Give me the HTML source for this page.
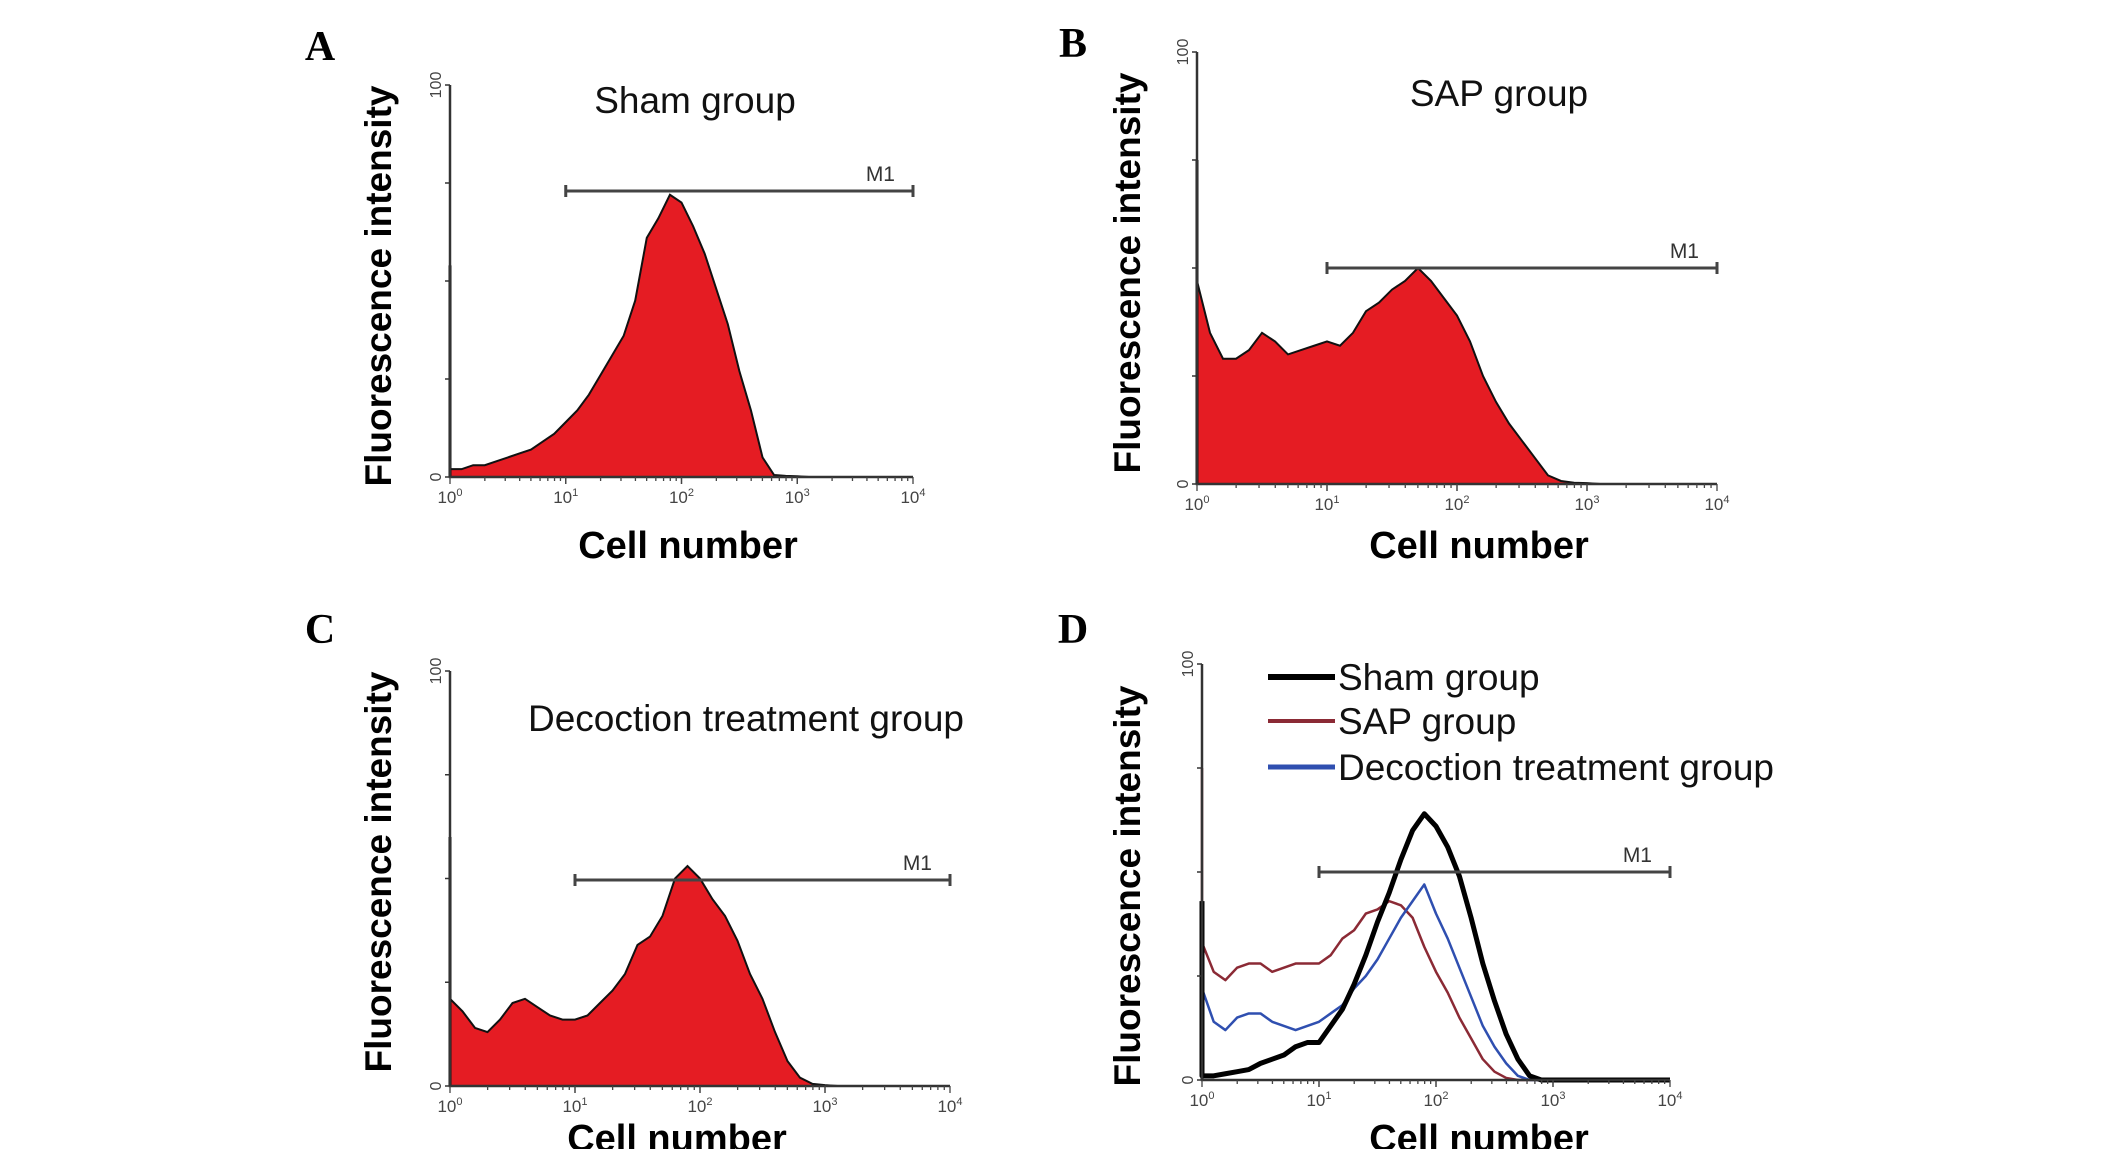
<!DOCTYPE html>
<html><head><meta charset="utf-8"><style>
html,body{margin:0;padding:0;background:#fff;}
svg{display:block;}
</style></head><body>
<svg id="fig" width="2126" height="1149" viewBox="0 0 2126 1149" xmlns="http://www.w3.org/2000/svg" font-family="Liberation Sans, Arial, sans-serif"></svg>
<script>
// log10 channel positions (0..4), step 0.1
const logX = [0,0.1,0.2,0.3,0.4,0.5,0.6,0.7,0.8,0.9,1.0,1.1,1.2,1.3,1.4,1.5,1.6,1.7,1.8,1.9,2.0,2.1,2.2,2.3,2.4,2.5,2.6,2.7,2.8,2.9,3.0,3.1,3.2,3.3,3.4,3.5,3.6,3.7,3.8,3.9,4.0];
const shamValues = [2,2,3,3,4,5,6,7,9,11,14,17,21,26,31,36,45,61,66,72,70,64,57,48,39,27,17,5,0.5,0.3,0.2,0,0,0,0,0,0,0,0,0,0];
const sapValues = [47,35,29,29,31,35,33,30,31,32,33,32,35,40,42,45,47,50,47,43,39,33,25,19,14,10,6,2,0.7,0.3,0.2,0,0,0,0,0,0,0,0,0,0];
const decValues = [21,18,14,13,16,20,21,19,17,16,16,17,20,23,27,34,36,41,50,53,50,45,41,35,27,21,13,6,2,0.5,0.2,0,0,0,0,0,0,0,0,0,0];
const dShamValues = [1,1,1.5,2,2.5,4,5,6,8,9,9,13,17,23,30,38,45,53,60,64,61,56,49,39,28,19,11,5,1,0,0,0,0,0,0,0,0,0,0,0,0];
const dSapValues = [33,26,24,27,28,28,26,27,28,28,28,30,34,36,40,41,43,42,39,32,26,21,15,10,5,2,0.5,0,0,0,0,0,0,0,0,0,0,0,0,0,0];
const dDecValues = [22,14,12,15,16,16,14,13,12,13,14,16,18,22,25,29,34,39,43,47,40,34,27,20,13,8,4,1,0,0,0,0,0,0,0,0,0,0,0,0,0];
const firstChannel = [54, 75, 60, 43];
const dFirstChannel = [43, 75, 22];
const xTickLabels = ["0","1","2","3","4"];
const yTickValues = [0,25,50,75,100];
const m1Range = [1,4];

const NS="http://www.w3.org/2000/svg";
const svg=document.getElementById('fig');
function mk(tag,attrs,parent){const e=document.createElementNS(NS,tag);for(const k in attrs)e.setAttribute(k,attrs[k]);(parent||svg).appendChild(e);return e;}

function panel(p){
  const g=mk('g',{});
  
  
  const sx=v=>p.x0+(p.x1-p.x0)*v/4;
  const sy=v=>p.y0-(p.y0-p.yt)*v/100;
  if(p.fill){
    let d='M'+sx(0)+','+sy(0);
    logX.forEach((x,i)=>{d+=' L'+sx(x)+','+sy(p.fill[i]);});
    d+=' L'+sx(4)+','+sy(0)+' Z';
    const a=mk('path',{d:d,fill:'#e51c23',stroke:'none'},g);
    
    
    let l='M'+sx(0)+','+sy(p.fill[0]);
    logX.forEach((x,i)=>{l+=' L'+sx(x)+','+sy(p.fill[i]);});
    const o=mk('path',{d:l,fill:'none',stroke:'#111','stroke-width':2},g);
    
    
  }
  if(p.lines){
    p.lines.forEach(s=>{
      let l='M'+sx(0)+','+sy(s.first);
      logX.forEach((x,i)=>{l+=' L'+sx(x)+','+sy(s.vals[i]);});
      const o=mk('path',{d:l,fill:'none',stroke:s.color,'stroke-width':s.w,'stroke-linejoin':'round'},g);
      
      
    });
  }
  const sp=mk('line',{x1:sx(0),x2:sx(0),y1:p.y0,y2:sy(p.spike),stroke:'#000','stroke-width':3},g);
  
  
  const ax=mk('path',{d:'M'+sx(0)+','+p.yt+' L'+sx(0)+','+p.y0+' L'+sx(4)+','+p.y0,fill:'none',stroke:'#333','stroke-width':2.5},g);
  
  
  yTickValues.forEach(v=>{mk('line',{x1:sx(0)-5,x2:sx(0),y1:sy(v),y2:sy(v),stroke:'#333','stroke-width':1.5},g);});
  for(let dec=0;dec<4;dec++){for(let k=1;k<=10;k++){const xv=dec+Math.log10(k);mk('line',{x1:sx(xv),x2:sx(xv),y1:p.y0,y2:p.y0+(k===1||k===10?7:4),stroke:'#444','stroke-width':1.3},g);}}
  xTickLabels.forEach((t,i)=>{
    const tx=mk('text',{x:sx(i),y:p.y0+26,'font-size':17,fill:'#444','text-anchor':'middle'},g);
    
    
    tx.textContent='10';
    const s=mk('tspan',{dy:-7,'font-size':11},tx);s.textContent=t;
  });
  [[0,'0'],[100,'100']].forEach(([v,t])=>{
    const tx=mk('text',{x:0,y:0,'font-size':16,fill:'#444','text-anchor':'middle',transform:'translate('+(sx(0)-9)+','+sy(v)+') rotate(-90)'},g);
    
    
    tx.textContent=t;
  });
  const my=p.m1;
  const m=mk('path',{d:'M'+sx(m1Range[0])+','+my+' L'+sx(m1Range[1])+','+my+' M'+sx(m1Range[0])+','+(my-6)+' L'+sx(m1Range[0])+','+(my+6)+' M'+sx(m1Range[1])+','+(my-6)+' L'+sx(m1Range[1])+','+(my+6),stroke:'#444','stroke-width':3,fill:'none'},g);
  
  
  const mt=mk('text',{x:sx(m1Range[1])-18,y:my-10,'font-size':21,fill:'#333','text-anchor':'end'},g);
  
  
  mt.textContent='M1';
  const L=mk('text',{x:p.lx,y:p.ly,'font-size':42,'font-weight':'bold','font-family':'Liberation Serif, serif','text-anchor':'middle'},g);
  
  
  L.textContent=p.id;
  const yl=mk('text',{x:0,y:0,'font-size':37,'font-weight':'bold','text-anchor':'middle',transform:'translate('+(p.ylx+13)+','+p.yly+') rotate(-90)'},g);
  
  
  yl.textContent='Fluorescence intensity';
  const xl=mk('text',{x:p.xlx,y:p.xly,'font-size':38,'font-weight':'bold','text-anchor':'middle'},g);
  
  
  xl.textContent='Cell number';
  if(p.title){
    const t=mk('text',{x:p.tx,y:p.ty,'font-size':37,'text-anchor':'middle',fill:'#111'},g);
    
    
    t.textContent=p.title;
  }
}

panel({id:'A',x0:450,x1:913,yt:85,y0:477,m1:191,fill:shamValues,spike:firstChannel[0],lx:320,ly:60,ylx:378,yly:286,xlx:688,xly:558,title:'Sham group',tx:695,ty:113});
panel({id:'B',x0:1197,x1:1717,yt:52,y0:484,m1:268,fill:sapValues,spike:firstChannel[1],lx:1073,ly:57,ylx:1127,yly:273,xlx:1479,xly:558,title:'SAP group',tx:1499,ty:106});
panel({id:'C',x0:450,x1:950,yt:671,y0:1086,m1:880,fill:decValues,spike:firstChannel[2],lx:320,ly:643,ylx:378,yly:872,xlx:677,xly:1151,title:'Decoction treatment group',tx:746,ty:731});
panel({id:'D',x0:1202,x1:1670,yt:664,y0:1080,m1:872,spike:firstChannel[3],lx:1073,ly:643,ylx:1127,yly:886,xlx:1479,xly:1151,
  lines:[{vals:dSapValues,first:dFirstChannel[1],color:'#8b2a35',w:2.5,name:'sap-line'},
         {vals:dDecValues,first:dFirstChannel[2],color:'#2f4fb0',w:2.5,name:'decoction-line'},
         {vals:dShamValues,first:dFirstChannel[0],color:'#000',w:5,name:'sham-line'}]});

const legendNames=['Sham group','SAP group','Decoction treatment group'];
const legendColors=['#000','#8b2a35','#2f4fb0'];
const legendWidths=[6,4,5];
legendNames.forEach((n,i)=>{
  const y=[677,721,767][i];
  const g=mk('g',{});
  
  
  mk('line',{x1:1268,x2:1335,y1:y,y2:y,stroke:legendColors[i],'stroke-width':legendWidths[i]},g);
  const t=mk('text',{x:1338,y:y+13,'font-size':37,fill:'#111'},g);
  t.textContent=n;
});
</script>
</body></html>
